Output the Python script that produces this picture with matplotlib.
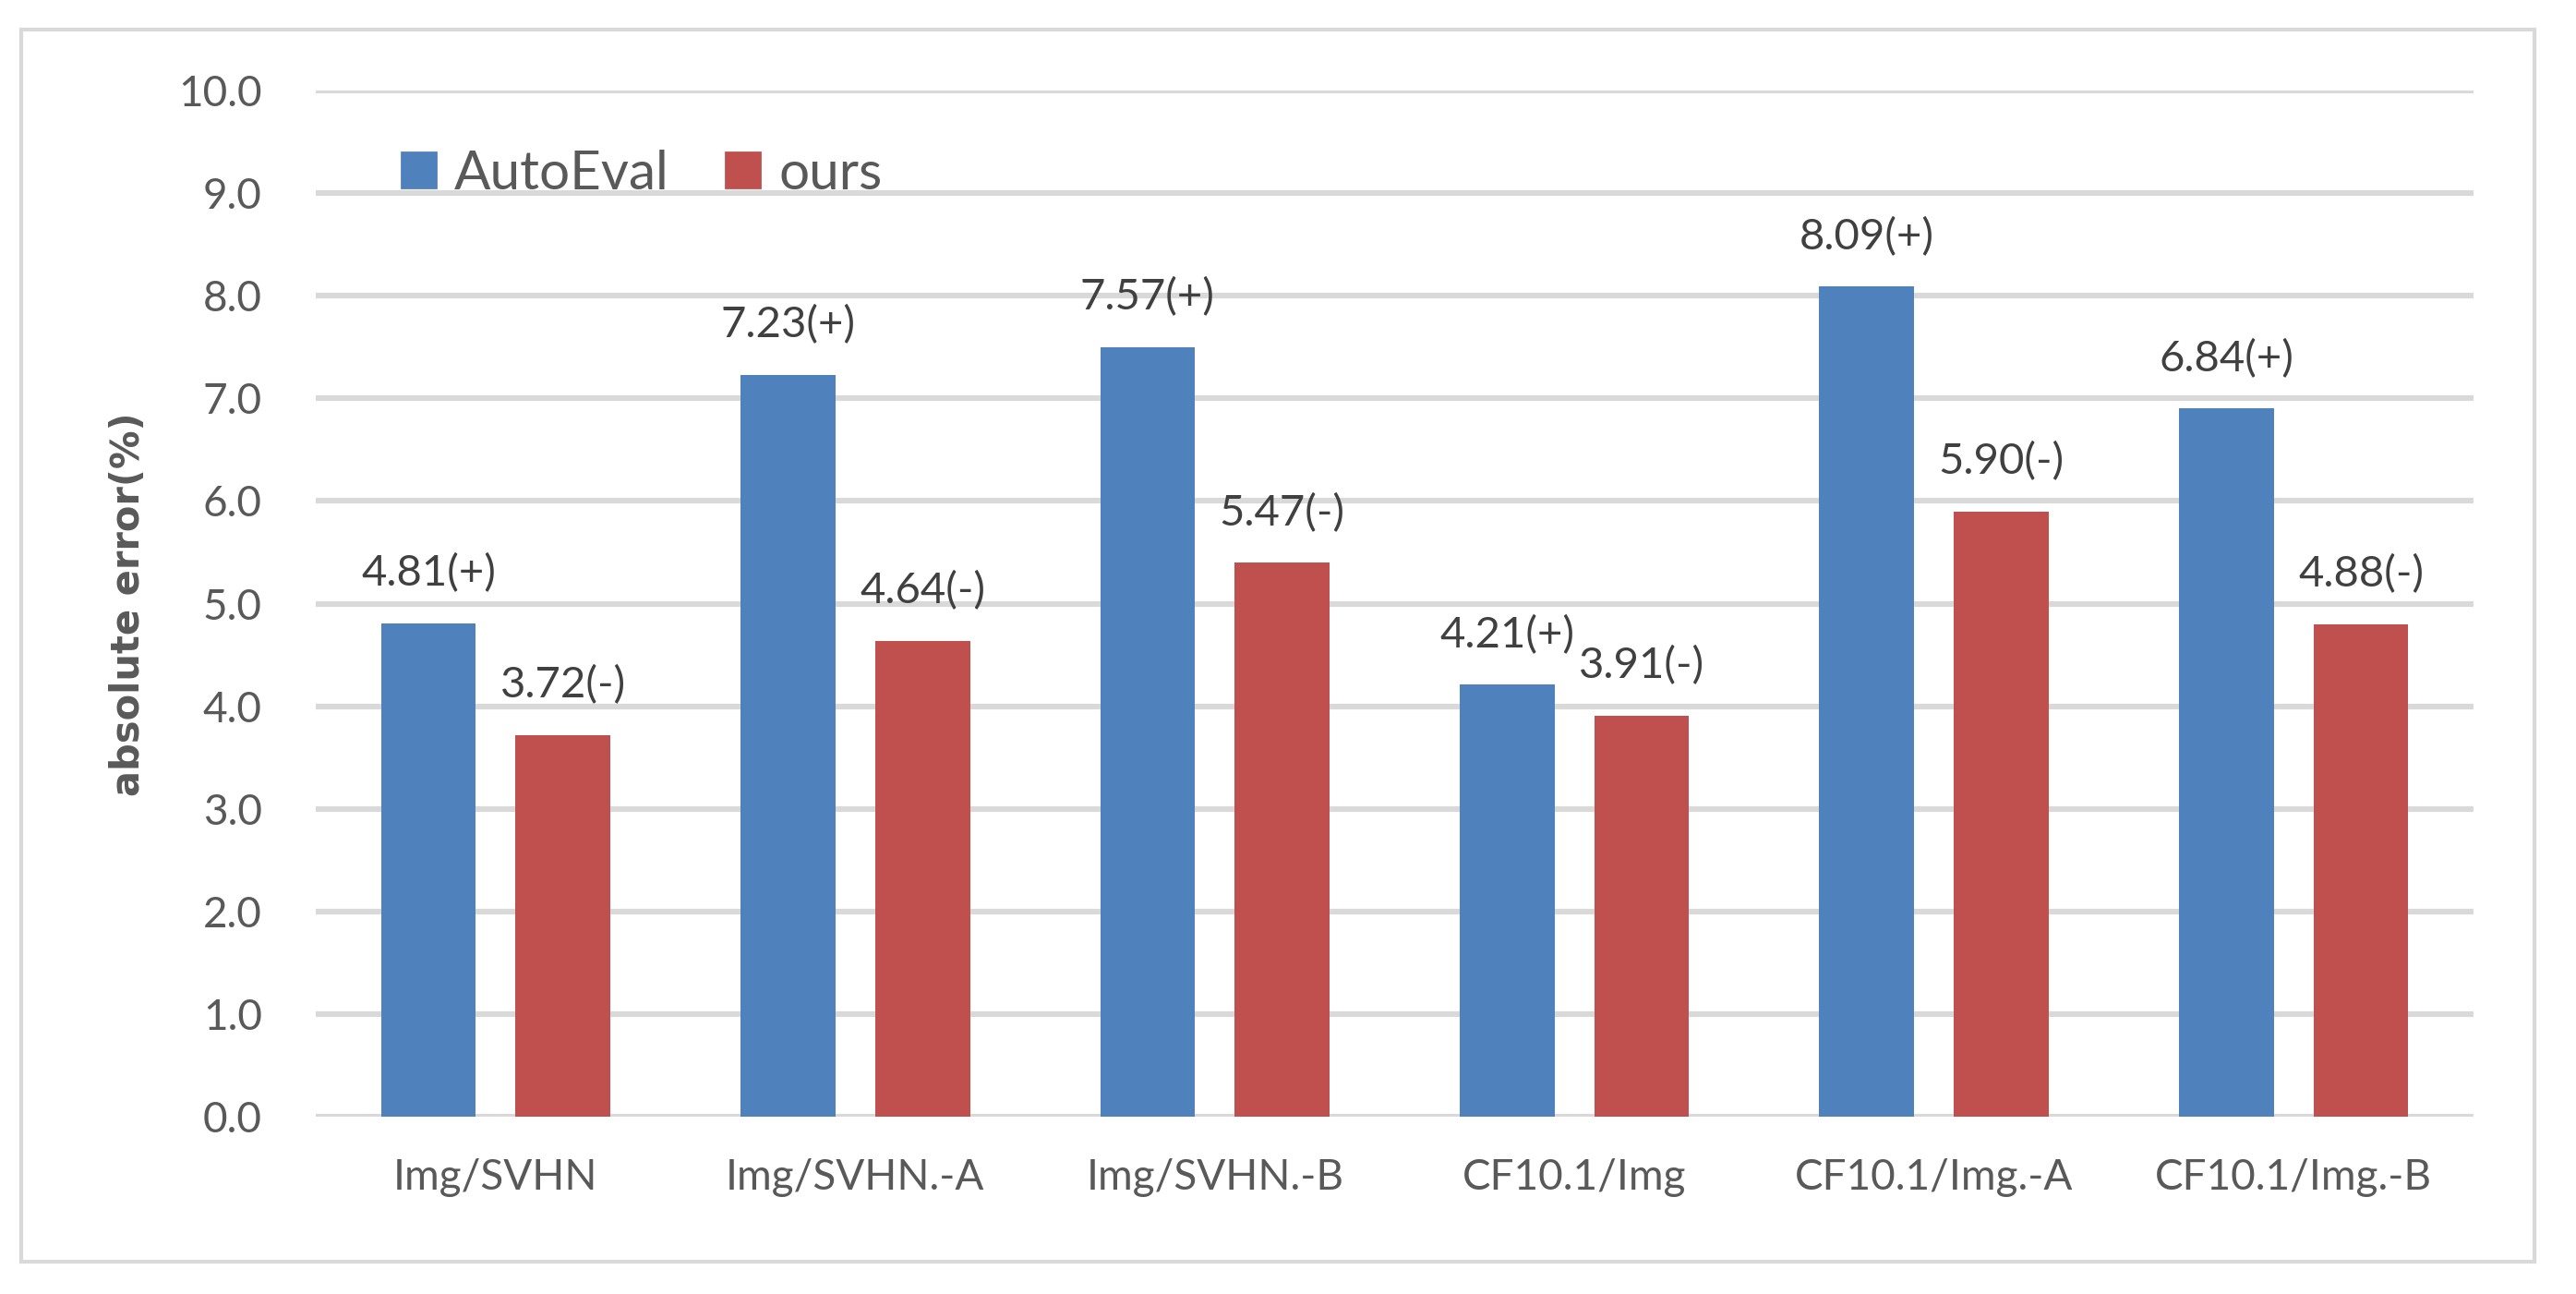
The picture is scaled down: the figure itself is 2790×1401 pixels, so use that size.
import matplotlib
matplotlib.use("Agg")
import matplotlib.pyplot as plt
from matplotlib.patches import Patch, Rectangle
import numpy as np

# data
categories = ["Img/SVHN", "Img/SVHN.-A", "Img/SVHN.-B",
              "CF10.1/Img", "CF10.1/Img.-A", "CF10.1/Img.-B"]
autoeval = [4.81, 7.23, 7.50, 4.21, 8.09, 6.90]
ours = [3.72, 4.64, 5.40, 3.91, 5.90, 4.80]
autoeval_labels = ["4.81(+)", "7.23(+)", "7.57(+)", "4.21(+)", "8.09(+)", "6.84(+)"]
ours_labels = ["3.72(-)", "4.64(-)", "5.47(-)", "3.91(-)", "5.90(-)", "4.88(-)"]
yticks = np.arange(0, 11, 1)

blue = "#4F81BD"
red = "#C0504D"
grid_c = "#D9D9D9"
txt = "#595959"
lbl = "#404040"

plt.rcParams['font.family'] = ['Lato', 'DejaVu Sans']

fig = plt.figure(figsize=(13.95, 7.005), dpi=200)
ax = fig.add_axes([0.1226, 0.1370, 0.8376, 0.7930])

x = np.arange(len(categories))
w = 0.264
off = 0.187
b1 = ax.bar(x - off, autoeval, w, color=blue, zorder=3)
b2 = ax.bar(x + off, ours, w, color=red, zorder=3)

for rect, s in zip(b1, autoeval_labels):
    ax.annotate(s, (rect.get_x() + rect.get_width() / 2, rect.get_height()),
                xytext=(0, 14.5), textcoords="offset points",
                ha="center", va="baseline", fontsize=17, color=lbl)
for rect, s in zip(b2, ours_labels):
    ax.annotate(s, (rect.get_x() + rect.get_width() / 2, rect.get_height()),
                xytext=(0, 14.5), textcoords="offset points",
                ha="center", va="baseline", fontsize=17, color=lbl)

ax.set_xlim(-0.5, len(categories) - 0.5)
ax.set_ylim(0, 10)
ax.set_yticks(yticks)
ax.set_yticklabels([f"{v:.1f}" for v in yticks])
ax.set_xticks(x)
ax.set_xticklabels(categories)
ax.tick_params(axis="y", length=0, pad=21, labelsize=16.5, labelcolor=txt)
ax.tick_params(axis="x", length=0, pad=16, labelsize=16.5, labelcolor=txt)
ax.yaxis.grid(True, color=grid_c, linewidth=2.2, zorder=0)
ax.set_axisbelow(True)
for sp in ax.spines.values():
    sp.set_visible(False)

fig.text(139 / 2790, 1 - 654 / 1401, "absolute error(%)", rotation=90,
         ha="center", va="center", fontsize=15, fontweight="bold",
         color=txt, family="DejaVu Sans")

handles = [Patch(color=blue, label="AutoEval"), Patch(color=red, label="ours")]
leg = ax.legend(handles=handles, ncol=2, frameon=False, loc="center left",
                bbox_to_anchor=(0.0398, 0.919), borderpad=0, borderaxespad=0,
                fontsize=21, handlelength=0.63, handleheight=0.63,
                handletextpad=0.35, columnspacing=1.05)
for t in leg.get_texts():
    t.set_color(txt)

fig.add_artist(Rectangle((23 / 2790, 1 - 1366 / 1401), (2745 - 23) / 2790,
                         (1366 - 32) / 1401, transform=fig.transFigure,
                         fill=False, edgecolor=grid_c, linewidth=1.5))

fig.savefig("out.png", dpi=200)
